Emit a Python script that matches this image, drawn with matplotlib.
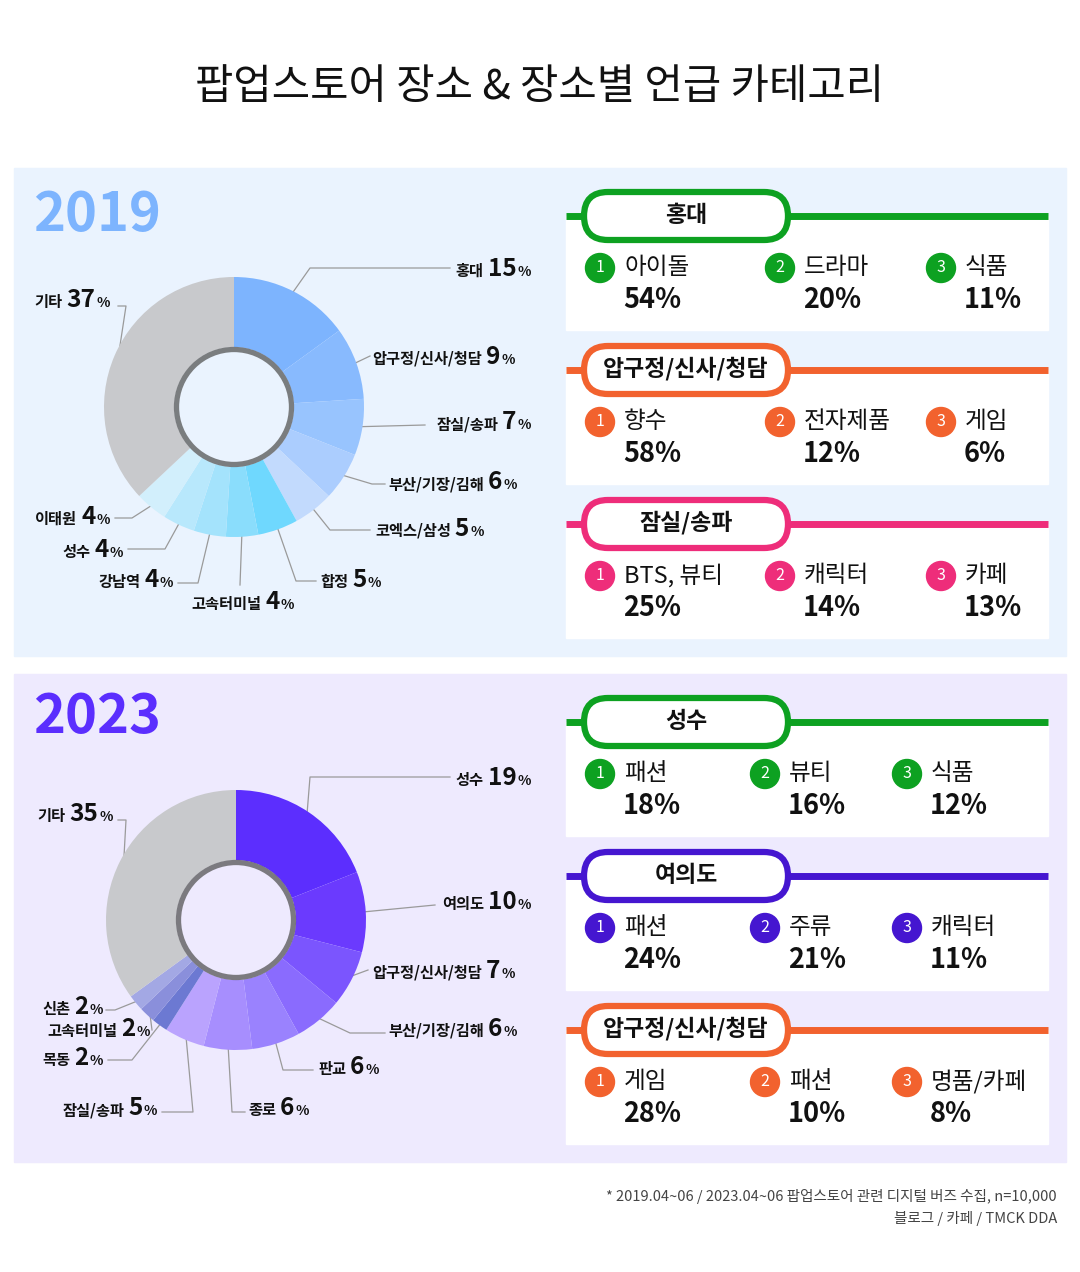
import numpy as np
import matplotlib.pyplot as plt
from matplotlib.patches import FancyBboxPatch, Rectangle, Circle

plt.rcParams['font.family'] = ['Noto Sans CJK KR', 'DejaVu Sans']

W, H = 1080, 1272

# 2019 data
places_2019 = ['홍대', '압구정/신사/청담', '잠실/송파', '부산/기장/김해', '코엑스/삼성', '합정',
               '고속터미널', '강남역', '성수', '이태원', '기타']
share_2019 = [15, 9, 7, 6, 5, 5, 4, 4, 4, 4, 37]
colors_2019 = ['#7db4fe', '#88bafe', '#98c4fe', '#abcdfe', '#c2dafd', '#6fd8fe',
               '#8addfc', '#a4e3fc', '#b8e8fc', '#d2effc', '#c8c9cc']

# 2023 data
places_2023 = ['성수', '여의도', '압구정/신사/청담', '부산/기장/김해', '판교', '종로',
               '잠실/송파', '목동', '고속터미널', '신촌', '기타']
share_2023 = [19, 10, 7, 6, 6, 6, 5, 2, 2, 2, 35]
colors_2023 = ['#5c2efe', '#6b3afe', '#7b55fe', '#8a6bfe', '#9a82fe', '#a78efe',
               '#baa3fe', '#6c79d2', '#8a8fdb', '#a3a8e4', '#c8c9cc']

# top categories per place
cards_2019 = [('홍대', '#0da121', ['아이돌', '드라마', '식품'], [54, 20, 11]),
              ('압구정/신사/청담', '#f2622e', ['향수', '전자제품', '게임'], [58, 12, 6]),
              ('잠실/송파', '#ee2d7a', ['BTS, 뷰티', '캐릭터', '카페'], [25, 14, 13])]
cards_2023 = [('성수', '#0da121', ['패션', '뷰티', '식품'], [18, 16, 12]),
              ('여의도', '#4516d0', ['패션', '주류', '캐릭터'], [24, 21, 11]),
              ('압구정/신사/청담', '#f2622e', ['게임', '패션', '명품/카페'], [28, 10, 8])]

fig = plt.figure(figsize=(W / 100, H / 100), dpi=100)
fig.patch.set_facecolor('white')
ax = fig.add_axes([0, 0, 1, 1])
ax.set_xlim(0, W)
ax.set_ylim(H, 0)
ax.axis('off')
renderer = fig.canvas.get_renderer()


def pieces(x, y, parts, align='left'):
    # parts: list of (text, size, weight, gap before)
    objs = [ax.text(0, y, t, fontsize=s, fontweight=w, va='baseline', color='#111')
            for t, s, w, g in parts]
    widths = []
    inv = ax.transData.inverted()
    for o in objs:
        bb = o.get_window_extent(renderer)
        p0 = inv.transform((bb.x0, bb.y0))
        p1 = inv.transform((bb.x1, bb.y0))
        widths.append(p1[0] - p0[0])
    gaps = [g for _, _, _, g in parts]
    total = sum(widths) + sum(gaps[1:])
    if align == 'right':
        x = x - total
    elif align == 'center':
        x = x - total / 2
    for i, (o, w) in enumerate(zip(objs, widths)):
        if i:
            x += gaps[i]
        o.set_x(x)
        x += w


ax.text(540, 87, '팝업스토어 장소 & 장소별 언급 카테고리', fontsize=30, ha='center',
        va='center', color='#111', fontweight='medium')

ax.add_patch(Rectangle((14, 168), 1052, 488, color='#eaf3fe', zorder=0))
ax.add_patch(Rectangle((14, 674), 1052, 488, color='#eeeafe', zorder=0))
ax.text(33, 215, '2019', fontsize=39, fontweight='black', color='#7db4fe', va='center')
ax.text(33, 718, '2023', fontsize=39, fontweight='black', color='#5b2efe', va='center')


def donut(cx, cy, vals, cols):
    R = 130
    a = fig.add_axes([(cx - R) / W, 1 - (cy + R) / H, 2 * R / W, 2 * R / H])
    a.pie(vals, colors=cols, startangle=90, counterclock=False,
          wedgeprops=dict(width=70 / 130, linewidth=0))
    a.add_patch(Circle((0, 0), 57.5 / 130, fill=False, ec='#555', lw=3.8, alpha=0.75))
    a.set_xlim(-1, 1)
    a.set_ylim(-1, 1)
    a.set_aspect('auto')
    a.axis('off')
    # mid angles for leader lines
    c = np.cumsum(vals)
    mids = (c - np.array(vals) / 2) / sum(vals) * 2 * np.pi
    return [(cx + R * 0.97 * np.sin(m), cy - R * 0.97 * np.cos(m)) for m in mids]


def labels(starts, names, vals, layout):
    for (sx, sy), n, v, (pts, tx, ty, al) in zip(starts, names, vals, layout):
        xs = [sx] + [p[0] for p in pts]
        ys = [sy] + [p[1] for p in pts]
        ax.plot(xs, ys, color='#9a9a9a', lw=0.9, zorder=3)
        pieces(tx, ty, [(n, 11, 'heavy', 0), (str(v), 17.5, 'heavy', 4), ('%', 10, 'heavy', 1)], al)


st = donut(234, 407, share_2019, colors_2019)
layout_2019 = [
    ([(310, 268), (450, 268)], 531, 276, 'right'),
    ([(370, 356)], 372, 364, 'left'),
    ([(425, 425)], 531, 429, 'right'),
    ([(372, 484), (385, 484)], 388, 489, 'left'),
    ([(330, 530), (370, 530)], 375, 536, 'left'),
    ([(296, 581), (316, 581)], 320, 587, 'left'),
    ([(240, 585)], 243, 609, 'center'),
    ([(198, 583), (178, 583)], 173, 587, 'right'),
    ([(165, 549), (128, 549)], 123, 557, 'right'),
    ([(132, 518), (115, 518)], 110, 524, 'right'),
    ([(126, 306), (118, 306)], 110, 307, 'right'),
]
labels(st, places_2019, share_2019, layout_2019)

st = donut(236, 920, share_2023, colors_2023)
layout_2023 = [
    ([(310, 777), (450, 777)], 531, 785, 'right'),
    ([(435, 905)], 531, 909, 'right'),
    ([(368, 970)], 372, 978, 'left'),
    ([(350, 1033), (385, 1033)], 388, 1036, 'left'),
    ([(283, 1070), (313, 1070)], 318, 1074, 'left'),
    ([(232, 1112), (245, 1112)], 248, 1115, 'left'),
    ([(193, 1112), (162, 1112)], 157, 1115, 'right'),
    ([(132, 1060), (108, 1060)], 103, 1065, 'right'),
    ([(152, 1030)], 150, 1036, 'right'),
    ([(115, 1010), (106, 1010)], 103, 1014, 'right'),
    ([(126, 820), (118, 820)], 113, 821, 'right'),
]
labels(st, places_2023, share_2023, layout_2023)


def card(top, title, col, cats, pcts, xs):
    ax.add_patch(Rectangle((566, top), 482, 114, color='white', zorder=1))
    ax.plot([566, 1048], [top, top], color=col, lw=5, zorder=2, solid_capstyle='butt')
    ax.add_patch(FancyBboxPatch((584, top - 24), 204, 48, boxstyle='round,pad=0,rounding_size=24',
                                fc='white', ec=col, lw=4.5, zorder=3))
    ax.text(686, top - 1, title, fontsize=16.5, fontweight='bold', ha='center', va='center',
            color='#111', zorder=4)
    for i, (c, p, x) in enumerate(zip(cats, pcts, xs)):
        ax.add_patch(Circle((x, top + 52), 14.5, color=col, zorder=4))
        ax.text(x, top + 52, str(i + 1), fontsize=11.5, color='white', ha='center', va='center',
                zorder=5)
        ax.text(x + 24, top + 52, c, fontsize=17, color='#111', va='center', zorder=5)
        ax.text(x + 23, top + 84, f'{p}%', fontsize=19.5, fontweight='heavy', color='#111',
                va='center', zorder=5)


for k, (t, c, cats, p) in enumerate(cards_2019):
    card(216 + k * 154, t, c, cats, p, [600, 780, 941])
for k, (t, c, cats, p) in enumerate(cards_2023):
    card(722 + k * 154, t, c, cats, p, [600, 765, 907])

ax.text(1057, 1197, '* 2019.04~06 / 2023.04~06 팝업스토어 관련 디지털 버즈 수집, n=10,000',
        fontsize=10.5, ha='right', va='center', color='#444')
ax.text(1057, 1218, '블로그 / 카페 / TMCK DDA', fontsize=10.5, ha='right', va='center', color='#444')

fig.savefig('out.png', dpi=100, facecolor='white')
